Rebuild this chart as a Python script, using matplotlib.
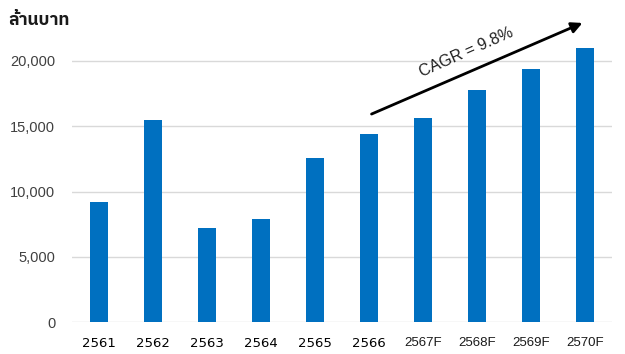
import matplotlib
matplotlib.use("Agg")
import matplotlib.pyplot as plt
import numpy as np

years = ["2561", "2562", "2563", "2564", "2565", "2566",
         "2567F", "2568F", "2569F", "2570F"]
revenue = [9200, 15500, 7200, 7900, 12600, 14400, 15600, 17800, 19400, 21000]
y_ticks = [0, 5000, 10000, 15000, 20000]
cagr_label = "CAGR = 9.8%"
unit_label = "ล้านบาท"

plt.rcParams["font.family"] = ["Liberation Sans", "DejaVu Sans"]

fig = plt.figure(figsize=(6.25, 3.54), dpi=100)
ax = fig.add_axes([72 / 625, (354 - 322) / 354, (612 - 72) / 625, 312 / 354])

x = np.arange(len(years))
ax.bar(x, revenue, width=0.32, color="#0070C0", zorder=3)

ax.set_xlim(-0.5, len(years) - 0.5)
ax.set_ylim(0, 312 / 13.05 * 1000)
ax.set_yticks(y_ticks)
ax.set_yticklabels([f"{v:,}" for v in y_ticks], color="#404040", fontsize=10.5)
ax.set_xticks(x)
ax.set_xticklabels(years, fontsize=9.5, color="#1a1a1a")
# actual years use a wider face than the forecast years
for lbl in ax.get_xticklabels():
    if not lbl.get_text().endswith("F"):
        lbl.set_family("DejaVu Sans")
        lbl.set_fontsize(9.5)
        lbl.set_color("#000000")
ax.tick_params(axis="both", length=0)
ax.tick_params(axis="x", pad=11)
ax.tick_params(axis="y", pad=12)

ax.yaxis.grid(True, color="#D9D9D9", linewidth=1, zorder=0)
for side in ["top", "right", "left", "bottom"]:
    ax.spines[side].set_visible(False)

# growth arrow over the forecast years
ax.annotate("", xy=(9.0, 23000), xytext=(5.0, 15850),
            arrowprops=dict(arrowstyle="-|>", color="black", lw=2,
                            mutation_scale=16),
            annotation_clip=False)
ax.text(6.8, 20700, cagr_label, rotation=24, ha="center", va="center",
        fontsize=11.5, color="#202020")

fig.text(8 / 625, 1 - 20 / 354, unit_label, fontsize=12.5, fontweight="bold",
         va="center", ha="left", color="#1a1a1a",
         family=["IBM Plex Sans Thai", "Noto Sans Thai", "DejaVu Sans"])

fig.savefig("out.png", dpi=100)
